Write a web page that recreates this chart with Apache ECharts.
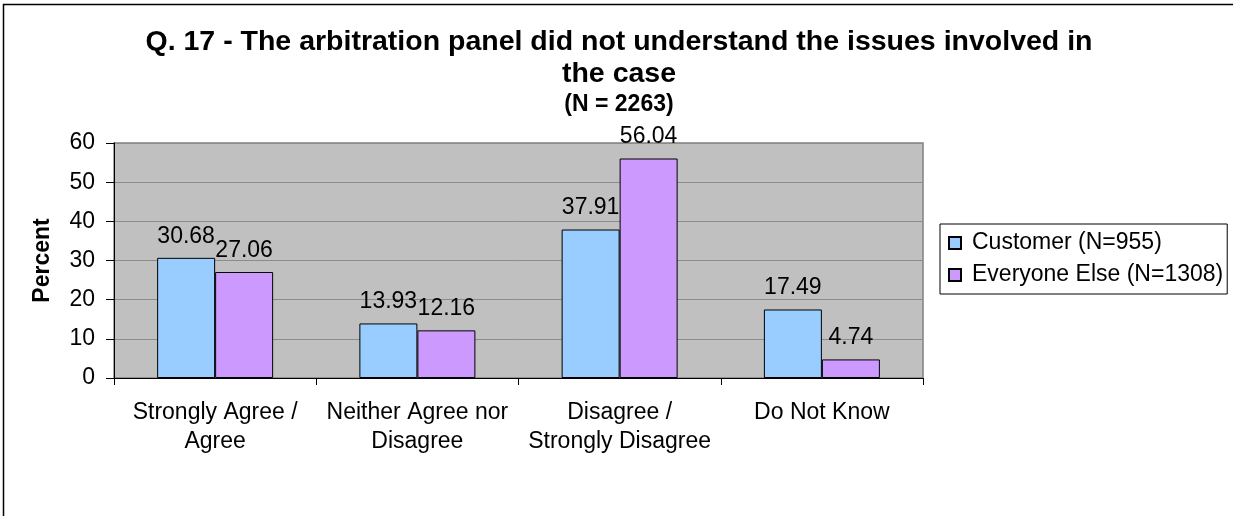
<!DOCTYPE html>
<html>
<head>
<meta charset="utf-8">
<script src="https://cdn.jsdelivr.net/npm/echarts@6/dist/echarts.min.js"></script>
<style>
html,body{margin:0;padding:0;background:#fff;}
#chart{width:1233px;height:516px;}
</style>
</head>
<body>
<div id="chart"></div>
<script>
var categories = ['Strongly Agree /\nAgree', 'Neither Agree nor\nDisagree', 'Disagree /\nStrongly Disagree', 'Do Not Know'];
var customerValues = [30.68, 13.93, 37.91, 17.49];
var everyoneValues = [27.06, 12.16, 56.04, 4.74];
var seriesNames = ['Customer (N=955)', 'Everyone Else (N=1308)'];
var yTicks = [0, 10, 20, 30, 40, 50, 60];

var FONT = '"Liberation Sans", Arial, sans-serif';
var chart = echarts.init(document.getElementById('chart'), null, {renderer: 'canvas'});

var labelStyle = {
  show: true, position: 'top', distance: 10,
  color: '#000', fontFamily: FONT, fontSize: 23,
  formatter: function (p) { return p.value.toFixed(2); }
};

chart.setOption({
  animation: false,
  backgroundColor: '#fff',
  title: [
    {
      text: 'Q. 17 - The arbitration panel did not understand the issues involved in\nthe case',
      left: 619, top: 26, textAlign: 'center', padding: 0,
      textStyle: {fontFamily: FONT, fontSize: 28.5, fontWeight: 'bold', color: '#000', lineHeight: 32}
    },
    {
      text: '(N = 2263)',
      left: 619, top: 92, textAlign: 'center', padding: 0,
      textStyle: {fontFamily: FONT, fontSize: 23, fontWeight: 'bold', color: '#000', lineHeight: 26}
    }
  ],
  legend: {
    orient: 'vertical',
    left: 940, top: 224,
    data: seriesNames,
    itemWidth: 12, itemHeight: 12, itemGap: 6,
    icon: 'rect',
    padding: [6, 4, 6, 8],
    borderColor: '#000', borderWidth: 1,
    backgroundColor: '#fff',
    textStyle: {fontFamily: FONT, fontSize: 23, color: '#000', lineHeight: 26, padding: [0, 0, 0, 6]}
  },
  grid: {
    left: 114, right: 310, top: 143, bottom: 138,
    show: true, backgroundColor: '#C0C0C0', borderColor: '#808080', borderWidth: 1.5,
    containLabel: false
  },
  xAxis: {
    type: 'category',
    data: categories,
    axisLine: {show: true, lineStyle: {color: '#000', width: 1}},
    axisTick: {show: true, length: 7, alignWithLabel: false, lineStyle: {color: '#000'}},
    axisLabel: {fontFamily: FONT, fontSize: 23, color: '#000', lineHeight: 29, margin: 20, interval: 0},
    splitLine: {show: false}
  },
  yAxis: {
    type: 'value',
    min: yTicks[0], max: yTicks[yTicks.length - 1], interval: 10,
    name: 'Percent',
    nameLocation: 'middle',
    nameGap: 60,
    nameRotate: 90,
    nameTextStyle: {fontFamily: FONT, fontSize: 23, fontWeight: 'bold', color: '#000'},
    axisLine: {show: true, lineStyle: {color: '#000', width: 1}},
    axisTick: {show: true, length: 8, lineStyle: {color: '#000'}},
    axisLabel: {fontFamily: FONT, fontSize: 23, color: '#000', margin: 19},
    splitLine: {show: true, lineStyle: {color: '#8c8c8c', width: 1}}
  },
  series: [
    {
      name: seriesNames[0], type: 'bar', data: customerValues,
      barWidth: 58, barGap: '0%',
      itemStyle: {color: '#99CCFF', borderColor: '#000', borderWidth: 1},
      label: labelStyle
    },
    {
      name: seriesNames[1], type: 'bar', data: everyoneValues,
      barWidth: 58, barGap: '0%',
      itemStyle: {color: '#CC99FF', borderColor: '#000', borderWidth: 1},
      label: labelStyle
    }
  ],
  graphic: [
    {
      type: 'rect', silent: true, z: 100,
      shape: {x: 3.5, y: 4.5, width: 1400, height: 700},
      style: {fill: 'none', stroke: '#000', lineWidth: 1.5}
    }
  ]
});
</script>
</body>
</html>
